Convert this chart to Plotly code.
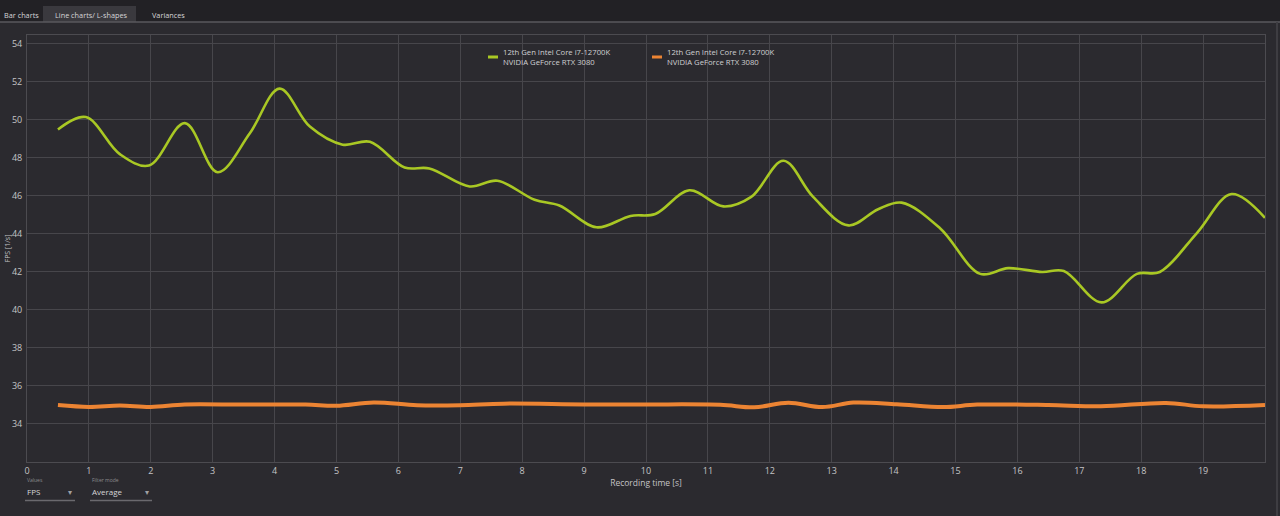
import plotly.graph_objects as go

# ---- data ----
green_x = [0.5, 0.95, 1.5, 1.97, 2.55, 3.08, 3.6, 4.08, 4.57, 5.1, 5.54, 6.1, 6.5, 7.15, 7.6,
           8.2, 8.6, 9.2, 9.75, 10.15, 10.7, 11.25, 11.7, 12.22, 12.7, 13.27, 13.75, 14.13,
           14.75, 15.4, 15.85, 16.4, 16.75, 17.36, 17.93, 18.3, 18.9, 19.46, 20.0]
green_y = [49.5, 50.15, 48.2, 47.6, 49.83, 47.25, 49.3, 51.65, 49.65, 48.7, 48.85, 47.5, 47.45,
           46.5, 46.8, 45.8, 45.5, 44.35, 44.95, 45.05, 46.3, 45.45, 45.95, 47.85, 45.95, 44.45,
           45.3, 45.65, 44.3, 41.9, 42.2, 42.0, 42.05, 40.4, 41.9, 42.0, 44.05, 46.1, 44.85]

orange_x = [0.5, 1.0, 1.5, 2.0, 2.55, 3.5, 4.5, 5.0, 5.6, 6.3, 7.0, 7.7, 9.0, 10.0, 11.2, 11.75,
            12.3, 12.85, 13.35, 14.05, 14.8, 15.35, 16.5, 17.35, 18.4, 19.0, 20.0]
orange_y = [35.0, 34.9, 34.97, 34.9, 35.03, 35.02, 35.02, 34.96, 35.13, 34.99, 34.99, 35.07, 35.03,
            35.03, 35.01, 34.88, 35.12, 34.89, 35.13, 35.04, 34.89, 35.02, 35.0, 34.93, 35.11,
            34.93, 35.0]

series_names = ["12th Gen Intel Core i7-12700K<br>NVIDIA GeForce RTX 3080",
                "12th Gen Intel Core i7-12700K<br>NVIDIA GeForce RTX 3080"]
x_ticks = list(range(0, 20))
y_ticks = list(range(34, 56, 2))
tabs = ["Bar charts", "Line charts/ L-shapes", "Variances"]

GREEN = "#a9c824"
ORANGE = "#ec8433"
TEXT = "#c4c4c6"
GRID = "#47464b"
BG = "#2b2a2f"
FONT = "Open Sans"

fig = go.Figure()
fig.add_trace(go.Scatter(x=green_x, y=green_y, mode="lines", name=series_names[0],
                         line=dict(color=GREEN, width=2.6, shape="spline", smoothing=1.0),
                         showlegend=False))
fig.add_trace(go.Scatter(x=orange_x, y=orange_y, mode="lines", name=series_names[1],
                         line=dict(color=ORANGE, width=4, shape="spline", smoothing=1.0),
                         showlegend=False))

PW = 1238.0
PH = 427.0
def px_x(p):
    return (p - 27) / PW
def px_y(p):
    return (462 - p) / PH

shapes = []
annotations = []

# tab bar
shapes.append(dict(type="rect", xref="paper", yref="paper", x0=px_x(0), x1=px_x(1280),
                   y0=px_y(22), y1=px_y(0), fillcolor="#222125", line=dict(width=0), layer="below"))
shapes.append(dict(type="rect", xref="paper", yref="paper", x0=px_x(43), x1=px_x(136),
                   y0=px_y(22), y1=px_y(6), fillcolor="#3a393e", line=dict(width=0), layer="below"))
shapes.append(dict(type="line", xref="paper", yref="paper", x0=px_x(0), x1=px_x(1280),
                   y0=px_y(22), y1=px_y(22), line=dict(color="#5a595e", width=1.5)))
tab_x = [2, 53, 150]
for t, tx in zip(tabs, tab_x):
    annotations.append(dict(text=t, xref="paper", yref="paper", x=px_x(tx), y=px_y(14.5),
                            xanchor="left", yanchor="middle", showarrow=False,
                            font=dict(family=FONT, size=7.3, color="#d6d6d8")))

# right strip
shapes.append(dict(type="line", xref="paper", yref="paper", x0=px_x(1277), x1=px_x(1277),
                   y0=px_y(516), y1=px_y(22), line=dict(color="#3e3d42", width=2)))

# legend (custom)
leg = [(488, 498, 501, GREEN), (652, 662, 665, ORANGE)]
for (s0, s1, tx, col), nm in zip(leg, series_names):
    shapes.append(dict(type="line", xref="paper", yref="paper", x0=px_x(s0), x1=px_x(s1),
                       y0=px_y(57), y1=px_y(57), line=dict(color=col, width=3)))
    annotations.append(dict(text=nm, xref="paper", yref="paper", x=px_x(tx), y=px_y(45),
                            xanchor="left", yanchor="top", align="left", showarrow=False,
                            font=dict(family=FONT, size=7.7, color="#d0d0d2")))

# bottom controls
controls = [("Values", "FPS", 25, 75), ("Filter mode", "Average", 90, 152)]
for lab, val, c0, c1 in controls:
    annotations.append(dict(text=lab, xref="paper", yref="paper", x=px_x(c0), y=px_y(480),
                            xanchor="left", yanchor="middle", showarrow=False,
                            font=dict(family=FONT, size=5, color="#8d8d90")))
    annotations.append(dict(text=val, xref="paper", yref="paper", x=px_x(c0), y=px_y(491.5),
                            xanchor="left", yanchor="middle", showarrow=False,
                            font=dict(family=FONT, size=8, color="#d6d6d8")))
    annotations.append(dict(text="▾", xref="paper", yref="paper", x=px_x(c1 - 1), y=px_y(491),
                            xanchor="right", yanchor="middle", showarrow=False,
                            font=dict(family=FONT, size=8, color="#a0a0a3")))
    shapes.append(dict(type="line", xref="paper", yref="paper", x0=px_x(c0), x1=px_x(c1),
                       y0=px_y(500.5), y1=px_y(500.5), line=dict(color="#6a696e", width=1.5)))

fig.update_layout(
    width=1280, height=516,
    margin=dict(l=27, r=15, t=35, b=54, autoexpand=False),
    paper_bgcolor=BG, plot_bgcolor=BG,
    font=dict(family=FONT, color=TEXT, size=9),
    shapes=shapes, annotations=annotations,
    showlegend=False,
    xaxis=dict(range=[0, 20], tickmode="array", tickvals=x_ticks, ticktext=[str(v) for v in x_ticks],
               showgrid=True, gridcolor=GRID, gridwidth=1, zeroline=False,
               showline=True, linecolor="#4c4b50", mirror=True, automargin=False,
               ticks="", ticklabelstandoff=0,
               tickfont=dict(family=FONT, size=9, color=TEXT),
               title=dict(text="Recording time [s]", standoff=2,
                          font=dict(family=FONT, size=8.5, color=TEXT))),
    yaxis=dict(range=[32, 54.47], tickmode="array", tickvals=y_ticks,
               showgrid=True, gridcolor=GRID, gridwidth=1, zeroline=False,
               showline=True, linecolor="#4c4b50", mirror=True, automargin=False,
               ticks="", ticklabelstandoff=2,
               tickfont=dict(family=FONT, size=9, color=TEXT),
               title=dict(text="FPS [1/s]", standoff=0,
                          font=dict(family=FONT, size=7, color=TEXT))),
)

fig.write_html("out.html")
